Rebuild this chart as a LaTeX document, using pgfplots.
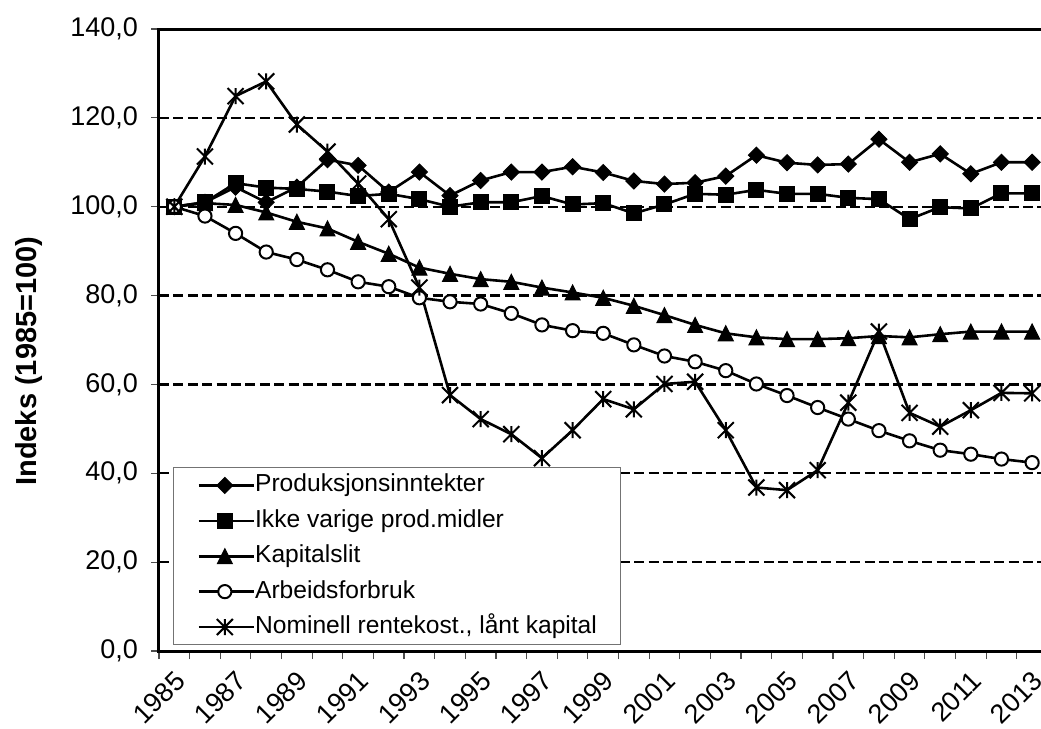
\documentclass[border=0pt]{standalone}
\usepackage{pgfplots}
\pgfplotsset{compat=1.18}
\usepackage{fontspec}
\setmainfont{Liberation Sans}

\pgfdeclareplotmark{xdiamond}{%
  \pgfpathmoveto{\pgfqpoint{0pt}{\pgfplotmarksize}}%
  \pgfpathlineto{\pgfqpoint{\pgfplotmarksize}{0pt}}%
  \pgfpathlineto{\pgfqpoint{0pt}{-\pgfplotmarksize}}%
  \pgfpathlineto{\pgfqpoint{-\pgfplotmarksize}{0pt}}%
  \pgfpathclose\pgfusepathqfillstroke}
\pgfdeclareplotmark{xtriangle}{%
  \pgfpathmoveto{\pgfqpoint{0pt}{\pgfplotmarksize}}%
  \pgfpathlineto{\pgfqpoint{\pgfplotmarksize}{-\pgfplotmarksize}}%
  \pgfpathlineto{\pgfqpoint{-\pgfplotmarksize}{-\pgfplotmarksize}}%
  \pgfpathclose\pgfusepathqfillstroke}
\pgfdeclareplotmark{xstar}{%
  \pgfpathmoveto{\pgfqpoint{0pt}{\pgfplotmarksize}}%
  \pgfpathlineto{\pgfqpoint{0pt}{-\pgfplotmarksize}}%
  \pgfpathmoveto{\pgfqpoint{-\pgfplotmarksize}{-\pgfplotmarksize}}%
  \pgfpathlineto{\pgfqpoint{\pgfplotmarksize}{\pgfplotmarksize}}%
  \pgfpathmoveto{\pgfqpoint{-\pgfplotmarksize}{\pgfplotmarksize}}%
  \pgfpathlineto{\pgfqpoint{\pgfplotmarksize}{-\pgfplotmarksize}}%
  \pgfusepathqstroke}

\begin{document}
\begin{tikzpicture}
\path[use as bounding box] (-79.5pt,-39pt) rectangle (441pt,325.5pt);
\begin{axis}[
  at={(0,0)}, anchor=south west,
  scale only axis, width=441pt, height=311pt,
  xmin=1984.5, xmax=2013.29, ymin=0, ymax=140,
  axis x line*=bottom, axis y line*=left,
  axis line style={line width=1.5pt, line cap=rect},
  clip=false,
  ytick={0,20,...,140},
  yticklabels={{0,0},{20,0},{40,0},{60,0},{80,0},{100,0},{120,0},{140,0}},
  xtick={1985,1987,...,2013},
  xticklabels={1985,1987,1989,1991,1993,1995,1997,1999,2001,2003,2005,2007,2009,2011,2013},
  minor xtick={1984.5,1985.5,...,2012.5},
  tick align=outside,
  major tick length=4pt, minor tick length=4pt,
  x tick style={draw=none},
  minor x tick style={draw=black!70, line width=0.6pt},
  y tick style={draw=black!70, line width=0.6pt},
  ymajorgrids,
  major grid style={dashed, dash pattern=on 5pt off 2.2pt, line width=1.1pt, black},
  tick label style={font=\fontsize{13.5}{16}\selectfont},
  yticklabel style={xshift=-3pt},
  xticklabel style={xshift=-0.5pt, yshift=-5pt, rotate=45, anchor=north east, inner sep=0pt},
  ylabel={Indeks (1985=100)},
  ylabel style={font=\fontsize{14.5}{17}\selectfont\bfseries, at={(axis description cs:-0.147,0.466)}, anchor=center},
  legend style={at={(rel axis cs:0.0159,0.0096)}, anchor=south west,
    draw=black!55, line width=0.5pt, fill=white,
    font=\fontsize{12.3}{14}\selectfont,
    inner xsep=12pt, inner ysep=3pt, row sep=6.2pt,
    nodes={inner sep=0pt, text height=9pt, text depth=2.5pt}},
  legend cell align=left,
  legend image code/.code={%
    \path (0pt,0pt) -- (27.5pt,0pt);
    \draw[mark repeat=2,mark phase=2] plot coordinates {(0pt,0pt) (13pt,0pt) (26pt,0pt)};},
  every axis plot/.append style={line width=1.3pt, black},
]
\addplot[mark=xdiamond, mark size=4pt, mark options={solid, fill=black, line width=0.5pt}] coordinates {
(1985,100) (1986,101) (1987,104.4) (1988,101) (1989,104.4) (1990,110.6) (1991,109.3)
(1992,103.3) (1993,107.8) (1994,102.5) (1995,105.9) (1996,107.8) (1997,107.8) (1998,109.0)
(1999,107.7) (2000,105.8) (2001,105.1) (2002,105.4) (2003,106.9) (2004,111.6) (2005,109.9)
(2006,109.4) (2007,109.6) (2008,115.2) (2009,110.0) (2010,111.9) (2011,107.4) (2012,110.0) (2013,110.0)};
\addlegendentry{Produksjonsinntekter}
\addplot[mark=square*, mark size=3.75pt, mark options={solid, fill=black, line width=0.5pt}] coordinates {
(1985,100) (1986,101) (1987,105.3) (1988,104.3) (1989,104.0) (1990,103.4) (1991,102.4)
(1992,102.9) (1993,101.7) (1994,100.0) (1995,101.0) (1996,101.0) (1997,102.4) (1998,100.5)
(1999,100.8) (2000,98.5) (2001,100.5) (2002,102.9) (2003,102.7) (2004,103.8) (2005,102.9)
(2006,102.9) (2007,102.0) (2008,101.7) (2009,97.2) (2010,99.9) (2011,99.6) (2012,103.0) (2013,103.0)};
\addlegendentry{Ikke varige prod.midler}
\addplot[mark=xtriangle, mark size=3.75pt, mark options={solid, fill=black, line width=0.5pt}] coordinates {
(1985,100) (1986,100.8) (1987,100.4) (1988,98.7) (1989,96.6) (1990,95.1) (1991,92.1)
(1992,89.4) (1993,86.3) (1994,84.9) (1995,83.7) (1996,83.1) (1997,81.8) (1998,80.7)
(1999,79.5) (2000,77.7) (2001,75.6) (2002,73.4) (2003,71.5) (2004,70.6) (2005,70.2)
(2006,70.2) (2007,70.4) (2008,70.9) (2009,70.6) (2010,71.3) (2011,71.9) (2012,71.9) (2013,71.9)};
\addlegendentry{Kapitalslit}
\addplot[mark=*, mark size=3.3pt, mark options={solid, fill=white, line width=1pt}] coordinates {
(1985,100) (1986,97.9) (1987,94.0) (1988,89.8) (1989,88.1) (1990,85.8) (1991,83.1)
(1992,82.0) (1993,79.5) (1994,78.6) (1995,78.1) (1996,76.0) (1997,73.4) (1998,72.1)
(1999,71.5) (2000,68.9) (2001,66.4) (2002,65.1) (2003,63.1) (2004,60.1) (2005,57.5)
(2006,54.8) (2007,52.2) (2008,49.6) (2009,47.3) (2010,45.2) (2011,44.3) (2012,43.2) (2013,42.4)};
\addlegendentry{Arbeidsforbruk}
\addplot[mark=xstar, mark size=4pt, mark options={solid, line width=1pt}] coordinates {
(1985,100) (1986,111.3) (1987,124.9) (1988,128.2) (1989,118.5) (1990,112.4) (1991,105.2)
(1992,97.2) (1993,81.8) (1994,57.6) (1995,52.2) (1996,48.8) (1997,43.4) (1998,49.7)
(1999,56.7) (2000,54.4) (2001,60.1) (2002,60.6) (2003,49.7) (2004,36.8) (2005,36.2)
(2006,40.7) (2007,55.9) (2008,71.9) (2009,53.6) (2010,50.5) (2011,54.2) (2012,58.1) (2013,58.0)};
\addlegendentry{Nominell rentekost., lånt kapital}
\draw[line width=1.5pt] (rel axis cs:0,1) -- (rel axis cs:1,1);
\end{axis}
\end{tikzpicture}
\end{document}
